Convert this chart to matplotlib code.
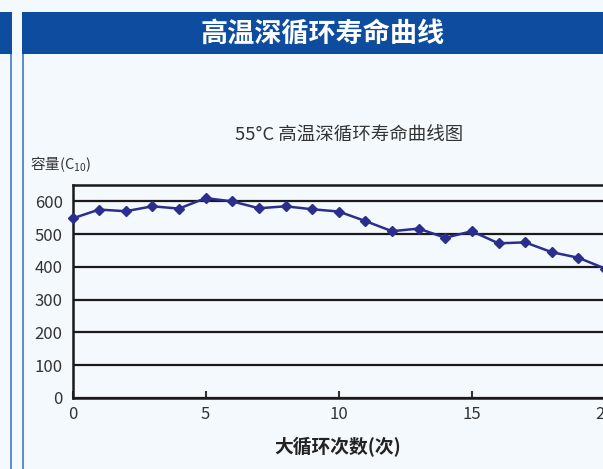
import matplotlib
matplotlib.use("Agg")
import matplotlib.pyplot as plt
from matplotlib.patches import Rectangle

plt.rcParams['font.family'] = ['Noto Sans CJK SC', 'DejaVu Sans']
plt.rcParams['mathtext.default'] = 'regular'

# data
cycles = list(range(21))
capacity = [548, 575, 570, 585, 578, 610, 600, 579, 585, 576, 569, 540,
            509, 517, 489, 509, 472, 475, 445, 428, 395]
y_ticks = [0, 100, 200, 300, 400, 500, 600]
x_ticks = [0, 5, 10, 15, 20]

W, H = 603, 469
bg = '#f4f9fd'
navy = '#0d4c9e'
edge = '#5f8fcc'

fig = plt.figure(figsize=(W / 100, H / 100), dpi=100)
fig.patch.set_facecolor(bg)


def px_rect(x0, y0, x1, y1, color):
    # rectangle given in pixel coords (origin top-left)
    fig.add_artist(Rectangle((x0 / W, 1 - y1 / H), (x1 - x0) / W, (y1 - y0) / H,
                             transform=fig.transFigure, facecolor=color,
                             edgecolor='none', zorder=0))


# header banners and side frame lines
px_rect(0, 12, 11.5, 54.5, navy)
px_rect(22.5, 12, W, 54.5, navy)
px_rect(10, 54.5, 11.5, H, edge)
px_rect(22.5, 54.5, 24, H, edge)
fig.text(322.5 / W, 1 - 34 / H, '高温深循环寿命曲线', color='white', fontsize=19.5,
         fontweight='bold', ha='center', va='center')

ax = fig.add_axes([72.5 / W, 1 - 398 / H, (605 - 72.5) / W, (398 - 185) / H])
ax.set_facecolor(bg)
ax.plot(cycles, capacity, color='#2b2e8c', linewidth=1.8, marker='D',
        markersize=5.5, clip_on=False, zorder=3)

ax.set_xlim(0, 20)
ax.set_ylim(0, 650)
ax.set_yticks(y_ticks)
ax.set_xticks(x_ticks)
ax.grid(axis='y', color='#1a1a1a', linewidth=1.6)
ax.set_axisbelow(True)
for s in ['left', 'bottom', 'top']:
    ax.spines[s].set_linewidth(1.8)
    ax.spines[s].set_color('#1a1a1a')
ax.spines['right'].set_visible(False)
ax.tick_params(axis='x', direction='in', length=5, width=1.5, pad=6,
               labelsize=12, colors='#333333')
ax.tick_params(axis='y', length=0, pad=7, labelsize=12, colors='#333333')

fig.text(349 / W, 1 - 136 / H, '55°C 高温深循环寿命曲线图', fontsize=13.3,
         color='#333333', ha='center', va='center')
fig.text(30 / W, 1 - 164 / H, '容量(C$_{10}$)', fontsize=10.5,
         color='#333333', ha='left', va='center')
fig.text(337.5 / W, 1 - 447.5 / H, '大循环次数(次)', fontsize=13.5, fontweight='bold',
         color='#222222', ha='center', va='center')

fig.savefig('out.png', dpi=100, facecolor=bg)
